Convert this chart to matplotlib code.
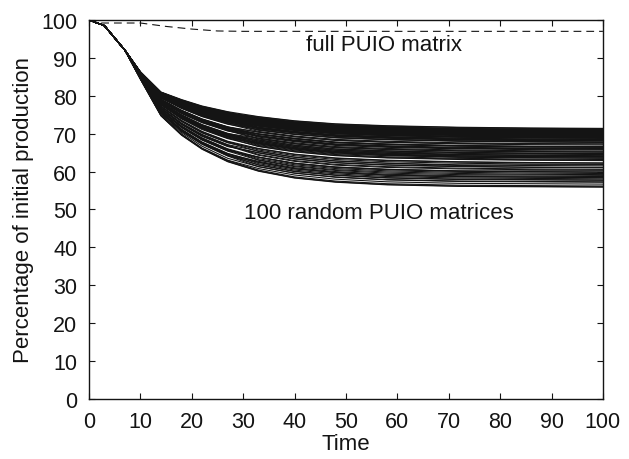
import matplotlib
matplotlib.use("Agg")
import matplotlib.pyplot as plt

plt.rcParams['font.family'] = ['Liberation Sans', 'DejaVu Sans']

# full PUIO matrix run
full_times = [0, 1.5, 10, 15, 20, 25, 30, 100]
full_values = [100, 99.2, 99.2, 98.3, 97.6, 97.1, 97.0, 97.0]

# 100 random PUIO matrices: shared start, then one row per run
run_times = [0, 3, 7, 10, 14, 18, 22, 27, 33, 40, 48, 58, 72, 86, 100]
start_values = [100, 98.5, 92.0]
random_runs = [
    [86.3, 81.0, 79.0, 77.3, 75.8, 74.5, 73.4, 72.6, 72.1, 71.7, 71.5, 71.4],
    [86.3, 80.9, 78.9, 77.2, 75.7, 73.9, 72.8, 72.0, 71.5, 71.1, 70.9, 70.8],
    [86.3, 80.9, 78.8, 77.1, 75.5, 74.4, 73.3, 72.5, 72.0, 71.6, 71.4, 71.3],
    [86.3, 80.9, 78.8, 77.1, 75.5, 73.8, 72.7, 71.9, 71.4, 71.0, 70.8, 70.7],
    [86.3, 80.8, 78.8, 77.0, 75.5, 74.2, 73.1, 72.3, 71.8, 71.4, 71.2, 71.1],
    [86.2, 80.8, 78.7, 77.0, 75.4, 74.0, 72.9, 72.1, 71.6, 71.2, 71.0, 70.9],
    [86.2, 80.8, 78.7, 76.9, 75.3, 73.4, 72.3, 71.5, 71.0, 70.6, 70.4, 70.3],
    [86.2, 80.7, 78.6, 76.8, 75.3, 74.2, 73.1, 72.3, 71.8, 71.2, 71.3, 71.1],
    [86.2, 80.7, 78.6, 76.8, 75.2, 73.5, 72.4, 71.6, 71.1, 70.7, 70.5, 70.4],
    [86.2, 80.7, 78.5, 76.7, 75.1, 73.9, 72.8, 72.0, 71.5, 71.1, 70.9, 70.8],
    [86.2, 80.7, 78.5, 76.7, 75.1, 73.3, 72.2, 71.4, 70.9, 70.5, 70.3, 70.2],
    [86.2, 80.6, 78.4, 76.6, 75.0, 73.6, 72.5, 71.7, 71.1, 70.6, 70.7, 70.6],
    [86.2, 80.6, 78.4, 76.6, 74.9, 74.0, 72.9, 72.1, 71.6, 71.2, 71.0, 70.9],
    [86.2, 80.6, 78.3, 76.5, 74.9, 73.0, 71.9, 71.1, 70.6, 70.2, 70.0, 69.9],
    [86.2, 80.5, 78.3, 76.4, 74.8, 73.2, 72.1, 71.3, 70.8, 70.4, 70.2, 70.1],
    [86.1, 80.5, 78.2, 76.4, 74.7, 73.6, 72.5, 71.7, 71.2, 70.8, 70.6, 70.5],
    [86.1, 80.5, 78.2, 76.3, 74.7, 72.7, 71.6, 70.8, 70.3, 69.9, 69.7, 69.6],
    [86.1, 80.4, 78.2, 76.3, 74.6, 73.8, 72.6, 71.8, 71.3, 70.9, 70.7, 70.6],
    [86.1, 80.4, 78.1, 76.2, 74.5, 72.7, 71.5, 70.7, 70.2, 69.8, 69.6, 69.5],
    [86.1, 80.4, 78.1, 76.2, 74.5, 73.2, 72.1, 71.2, 70.7, 70.1, 70.2, 70.1],
    [86.1, 80.3, 78.0, 76.1, 74.4, 72.9, 71.8, 70.9, 70.4, 70.0, 69.8, 69.7],
    [86.1, 80.3, 78.0, 76.0, 74.3, 73.2, 72.1, 71.2, 70.7, 70.3, 70.1, 70.0],
    [86.1, 80.3, 77.9, 76.0, 74.3, 72.5, 71.4, 70.5, 70.0, 69.6, 69.4, 69.3],
    [86.1, 80.2, 77.9, 75.9, 74.2, 72.4, 71.3, 70.4, 69.9, 69.5, 69.3, 69.2],
    [86.1, 80.2, 77.8, 75.9, 74.2, 73.1, 72.0, 71.1, 70.6, 70.2, 70.0, 69.9],
    [86.1, 80.2, 77.8, 75.8, 74.1, 73.0, 71.9, 71.0, 70.5, 70.1, 69.9, 69.8],
    [86.0, 80.1, 77.7, 75.8, 74.0, 72.1, 71.0, 70.1, 69.6, 69.2, 69.0, 68.9],
    [86.0, 80.1, 77.7, 75.7, 74.0, 72.6, 71.5, 70.6, 70.1, 69.7, 69.5, 69.4],
    [86.0, 80.1, 77.6, 75.7, 73.9, 72.0, 70.9, 70.0, 69.5, 69.1, 68.9, 68.8],
    [86.0, 80.1, 77.6, 75.6, 73.8, 72.3, 71.2, 70.3, 69.8, 69.2, 69.3, 69.3],
    [86.0, 80.0, 77.5, 75.5, 73.8, 71.7, 70.6, 69.7, 69.2, 68.8, 68.6, 68.5],
    [86.0, 80.0, 77.5, 75.5, 73.7, 72.8, 71.7, 70.8, 70.3, 69.9, 69.7, 69.6],
    [86.0, 80.0, 77.5, 75.4, 73.6, 72.0, 70.9, 70.0, 69.5, 69.1, 68.9, 68.8],
    [86.0, 79.9, 77.4, 75.4, 73.6, 71.4, 70.3, 69.4, 68.9, 68.5, 68.3, 68.2],
    [86.0, 79.9, 77.4, 75.3, 73.5, 71.7, 70.6, 69.7, 69.2, 68.8, 68.6, 68.5],
    [86.0, 79.9, 77.3, 75.2, 73.4, 72.2, 71.1, 70.2, 69.7, 69.3, 69.1, 69.0],
    [86.0, 79.8, 77.3, 75.2, 73.4, 71.5, 70.4, 69.5, 69.0, 68.6, 68.4, 68.3],
    [85.9, 79.8, 77.2, 75.1, 73.3, 72.1, 71.0, 70.1, 69.6, 69.2, 69.0, 68.9],
    [85.9, 79.8, 77.2, 75.1, 73.2, 71.3, 70.2, 69.3, 68.8, 68.4, 68.2, 68.1],
    [85.9, 79.7, 77.1, 75.0, 73.2, 71.5, 70.4, 69.5, 69.0, 68.4, 68.2, 68.3],
    [85.9, 79.7, 77.0, 74.9, 73.0, 70.9, 69.8, 68.9, 68.4, 68.0, 67.8, 67.7],
    [85.9, 79.6, 76.9, 74.8, 72.9, 71.0, 69.9, 69.0, 68.5, 68.1, 67.9, 67.8],
    [85.9, 79.6, 76.8, 74.7, 72.8, 71.4, 70.3, 69.4, 68.9, 68.5, 68.3, 68.2],
    [85.8, 79.5, 76.7, 74.6, 72.6, 70.6, 69.4, 68.5, 68.0, 67.6, 67.4, 67.3],
    [85.8, 79.4, 76.7, 74.5, 72.5, 71.1, 69.9, 69.0, 68.5, 68.1, 67.9, 67.8],
    [85.7, 79.1, 76.2, 73.9, 71.8, 69.8, 68.6, 67.6, 67.1, 66.7, 66.5, 66.4],
    [85.7, 79.1, 76.1, 73.8, 71.8, 70.4, 69.2, 68.2, 67.7, 67.3, 67.1, 67.0],
    [85.7, 79.0, 76.1, 73.8, 71.7, 70.4, 69.2, 68.3, 67.8, 67.4, 67.3, 67.3],
    [85.7, 79.0, 76.0, 73.7, 71.6, 69.5, 68.3, 67.3, 66.8, 66.4, 66.2, 66.1],
    [85.7, 79.0, 75.9, 73.6, 71.5, 70.0, 68.8, 67.8, 67.3, 66.9, 66.7, 66.6],
    [85.7, 78.9, 75.9, 73.5, 71.4, 69.3, 68.1, 67.1, 66.6, 66.2, 66.0, 65.9],
    [85.7, 78.9, 75.8, 73.4, 71.3, 69.9, 68.7, 67.7, 67.2, 66.8, 66.6, 66.5],
    [85.6, 78.8, 75.8, 73.4, 71.2, 69.1, 67.9, 66.9, 66.4, 66.0, 65.8, 65.7],
    [85.6, 78.8, 75.7, 73.3, 71.2, 69.9, 68.7, 67.7, 67.2, 66.8, 66.6, 66.5],
    [85.6, 78.7, 75.6, 73.2, 71.0, 69.4, 68.2, 67.2, 66.7, 66.1, 66.2, 66.2],
    [85.6, 78.7, 75.5, 73.1, 70.9, 68.8, 67.6, 66.6, 66.1, 65.7, 65.5, 65.4],
    [85.6, 78.6, 75.4, 73.0, 70.8, 68.6, 67.3, 66.3, 65.8, 65.4, 65.2, 65.1],
    [85.6, 78.5, 75.3, 72.9, 70.7, 69.4, 68.1, 67.1, 66.6, 66.2, 66.0, 65.9],
    [85.5, 78.3, 75.0, 72.4, 70.1, 68.3, 66.9, 65.9, 65.4, 65.0, 64.8, 64.7],
    [85.5, 78.2, 74.9, 72.3, 70.0, 68.8, 67.4, 66.4, 65.9, 65.5, 65.3, 65.2],
    [85.5, 78.2, 74.8, 72.2, 69.9, 67.8, 66.4, 65.4, 64.9, 64.5, 64.3, 64.2],
    [85.4, 78.2, 74.8, 72.2, 69.9, 68.0, 66.6, 65.6, 65.1, 64.5, 64.7, 64.7],
    [85.4, 78.1, 74.7, 72.1, 69.7, 67.4, 66.0, 65.0, 64.5, 64.1, 63.9, 63.8],
    [85.4, 78.1, 74.6, 72.0, 69.7, 68.4, 67.0, 66.0, 65.5, 65.1, 64.9, 64.8],
    [85.4, 78.0, 74.6, 71.9, 69.6, 67.5, 66.1, 65.1, 64.6, 64.2, 64.0, 63.9],
    [85.4, 78.0, 74.5, 71.8, 69.5, 68.1, 66.7, 65.7, 65.2, 64.8, 64.6, 64.5],
    [85.4, 77.9, 74.4, 71.8, 69.4, 67.1, 65.7, 64.7, 64.2, 63.8, 63.6, 63.5],
    [85.4, 77.9, 74.4, 71.7, 69.3, 67.7, 66.3, 65.3, 64.8, 64.4, 64.2, 64.1],
    [85.4, 77.9, 74.3, 71.6, 69.2, 66.9, 65.5, 64.5, 63.9, 63.5, 63.3, 63.2],
    [85.3, 77.8, 74.2, 71.5, 69.1, 67.3, 65.9, 64.9, 64.3, 63.9, 63.7, 63.6],
    [85.3, 77.7, 74.1, 71.4, 68.9, 66.6, 65.2, 64.2, 63.6, 63.2, 63.0, 62.9],
    [85.3, 77.7, 74.0, 71.3, 68.8, 67.5, 66.1, 65.1, 64.5, 63.8, 64.0, 64.0],
    [85.3, 77.6, 73.9, 71.1, 68.7, 66.7, 65.3, 64.3, 63.7, 63.3, 63.1, 63.0],
    [85.2, 77.3, 73.5, 70.6, 68.0, 66.1, 64.6, 63.6, 63.0, 62.6, 62.4, 62.3],
    [85.2, 77.2, 73.4, 70.5, 67.9, 65.7, 64.2, 63.2, 62.6, 62.2, 62.0, 61.9],
    [85.1, 77.2, 73.3, 70.3, 67.7, 65.3, 63.8, 62.8, 62.2, 61.8, 61.6, 61.5],
    [85.1, 77.1, 73.2, 70.2, 67.6, 66.0, 64.5, 63.5, 62.9, 62.5, 62.3, 62.2],
    [85.0, 76.8, 72.8, 69.8, 67.1, 65.4, 63.8, 62.8, 62.2, 61.6, 61.8, 61.8],
    [85.0, 76.8, 72.7, 69.7, 67.0, 64.5, 62.9, 61.9, 61.3, 60.9, 60.7, 60.6],
    [85.0, 76.7, 72.6, 69.5, 66.8, 64.3, 62.7, 61.7, 61.1, 60.7, 60.5, 60.4],
    [85.0, 76.7, 72.5, 69.4, 66.7, 64.9, 63.3, 62.3, 61.7, 61.3, 61.1, 61.0],
    [85.0, 76.6, 72.4, 69.3, 66.6, 65.0, 63.4, 62.4, 61.8, 61.4, 61.2, 61.1],
    [84.9, 76.3, 72.0, 68.9, 66.0, 63.8, 62.2, 61.2, 60.6, 60.2, 60.0, 59.9],
    [84.9, 76.3, 72.0, 68.8, 65.9, 63.4, 61.8, 60.8, 60.2, 59.8, 59.6, 59.5],
    [84.9, 76.2, 71.9, 68.6, 65.8, 63.1, 61.5, 60.5, 59.9, 59.5, 59.3, 59.2],
    [84.8, 76.1, 71.8, 68.5, 65.6, 63.8, 62.2, 61.2, 60.6, 60.1, 60.2, 60.2],
    [84.8, 76.1, 71.7, 68.4, 65.5, 63.8, 62.1, 61.1, 60.5, 60.1, 59.9, 59.8],
    [84.8, 76.0, 71.6, 68.3, 65.4, 63.0, 61.3, 60.3, 59.6, 59.2, 59.1, 59.0],
    [84.7, 75.8, 71.2, 67.8, 64.8, 62.5, 60.8, 59.8, 59.1, 58.7, 58.6, 58.5],
    [84.7, 75.7, 71.1, 67.7, 64.7, 62.1, 60.4, 59.4, 58.7, 58.3, 58.2, 58.1],
    [84.7, 75.6, 71.0, 67.6, 64.6, 62.7, 61.0, 60.0, 59.3, 58.9, 58.8, 58.7],
    [84.7, 75.6, 70.9, 67.5, 64.4, 61.7, 60.0, 59.0, 58.3, 57.9, 57.8, 57.7],
    [84.6, 75.5, 70.8, 67.4, 64.3, 62.4, 60.7, 59.7, 59.0, 58.6, 58.5, 58.4],
    [84.6, 75.5, 70.7, 67.3, 64.2, 61.8, 60.1, 59.1, 58.4, 58.0, 57.9, 57.8],
    [84.6, 75.4, 70.6, 67.2, 64.1, 61.3, 59.6, 58.6, 57.9, 57.5, 57.4, 57.3],
    [84.5, 75.1, 70.3, 66.7, 63.5, 61.3, 59.6, 58.5, 57.8, 57.4, 57.3, 57.2],
    [84.5, 74.9, 69.9, 66.2, 63.0, 60.8, 59.1, 58.0, 57.3, 56.9, 56.8, 56.7],
    [84.4, 74.8, 69.8, 66.1, 62.9, 60.4, 58.6, 57.5, 56.8, 56.4, 56.3, 56.2],
    [84.4, 74.8, 69.7, 66.0, 62.7, 60.2, 58.4, 57.3, 56.6, 56.2, 56.1, 56.0],
    [84.4, 74.7, 69.6, 65.9, 62.6, 60.1, 58.3, 57.2, 56.5, 56.1, 56.0, 55.9],
]

ink = '#141414'

fig = plt.figure(figsize=(6.29, 4.60), dpi=100)
ax = fig.add_axes([0.1415, 0.1304, 0.817, 0.824])

for run in random_runs:
    ax.plot(run_times, start_values + run, color=ink, linewidth=0.8)

ax.plot(full_times, full_values, color=ink, linewidth=0.8, linestyle=(0, (7, 4.5)))

ax.text(57.5, 93.4, 'full PUIO matrix', ha='center', va='center', fontsize=16, color=ink)
ax.text(56.5, 49.3, '100 random PUIO matrices', ha='center', va='center', fontsize=16, color=ink)

ax.set_xlim(0, 100)
ax.set_ylim(0, 100)
ax.set_xticks(range(0, 101, 10))
ax.set_yticks(range(0, 101, 10))
ax.tick_params(direction='in', top=True, right=True, length=4, width=0.8,
               labelsize=15.5, colors=ink, pad=8.5)
for spine in ax.spines.values():
    spine.set_linewidth(1.0)
    spine.set_color(ink)

ax.set_xlabel('Time', fontsize=16, color=ink, labelpad=1)
ax.set_ylabel('Percentage of initial production', fontsize=16, color=ink, labelpad=5)

fig.savefig('out.png', dpi=100)
